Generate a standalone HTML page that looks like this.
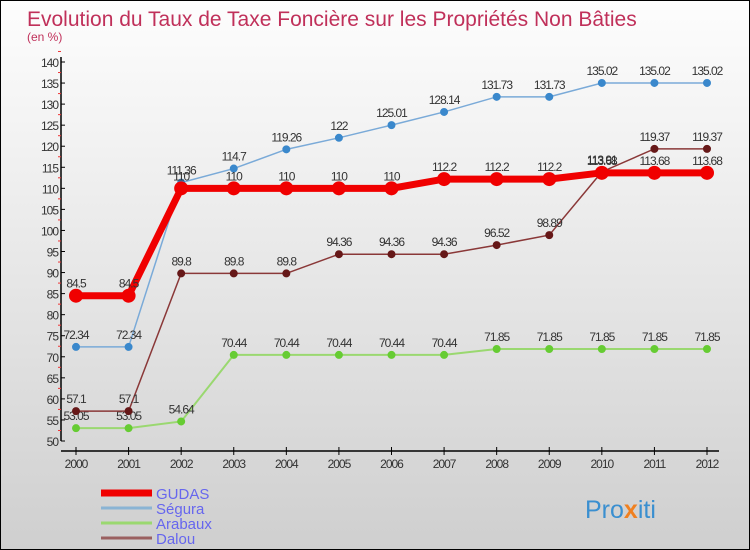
<!DOCTYPE html>
<html><head><meta charset="utf-8"><style>
body{margin:0}
#c{width:750px;height:550px;position:relative;overflow:hidden;background:linear-gradient(#fdfdfd,#f0f0f0 30%,#cfcfcf);border:1px solid #000;box-sizing:border-box;font-family:"Liberation Sans",sans-serif}
</style></head><body>
<div id="c">
<svg id="s" width="750" height="550" style="position:absolute;left:0;top:0">
<text x="26" y="25" font-size="21" fill="#c0305a">Evolution du Taux de Taxe Foncière sur les Propriétés Non Bâties</text>
<text x="26" y="40" font-size="12" fill="#c0305a">(en %)</text>
<text x="584" y="517" font-size="25" fill="#3a8fd0">Pro<tspan fill="#f08020" font-weight="bold">x</tspan>iti</text>
</svg>
</div>
<script>
const years=[2000,2001,2002,2003,2004,2005,2006,2007,2008,2009,2010,2011,2012];
const yTicks=[50,55,60,65,70,75,80,85,90,95,100,105,110,115,120,125,130,135,140];
const gudas=[84.5,84.5,110,110,110,110,110,112.2,112.2,112.2,113.68,113.68,113.68];
const segura=[72.34,72.34,111.36,114.7,119.26,122,125.01,128.14,131.73,131.73,135.02,135.02,135.02];
const arabaux=[53.05,53.05,54.64,70.44,70.44,70.44,70.44,70.44,71.85,71.85,71.85,71.85,71.85];
const dalou=[57.1,57.1,89.8,89.8,89.8,94.36,94.36,94.36,96.52,98.89,113.91,119.37,119.37];
const seriesNames=["GUDAS","Ségura","Arabaux","Dalou"];
const s=document.getElementById('s');const NS='http://www.w3.org/2000/svg';
const X=i=>75+i*(706-75)/12, Y=v=>440-(v-50)*(440-61)/90;
function el(t,a,n){const e=document.createElementNS(NS,t);for(const k in a)e.setAttribute(k,a[k]);


s.appendChild(e);return e;}
el('line',{x1:60,y1:56,x2:60,y2:440,stroke:'#000','stroke-width':1.5},'y-axis');
el('line',{x1:60,y1:450,x2:718,y2:450,stroke:'#000','stroke-width':1.5},'x-axis');
yTicks.forEach(v=>{const y=Y(v);el('line',{x1:60,y1:y,x2:64,y2:y,stroke:'#000'},'y-tick');
const t=el('text',{x:57,y:y+5,'font-size':12,fill:'#333','text-anchor':'end','letter-spacing':-1},'y-tick-label');t.textContent=v;
el('line',{x1:57,y1:Y(v+2.5),x2:60,y2:Y(v+2.5),stroke:'#e33'},'y-minor-tick');});
years.forEach((yr,i)=>{el('line',{x1:X(i),y1:446,x2:X(i),y2:454,stroke:'#000'},'x-tick');
const t=el('text',{x:X(i),y:467,'font-size':12,fill:'#333','text-anchor':'middle','letter-spacing':-1},'x-tick-label');t.textContent=yr;});
function series(d,col,w,r,dot,n){
el('polyline',{points:d.map((v,i)=>X(i)+','+Y(v)).join(' '),fill:'none',stroke:col,'stroke-width':w},n+'-line');
d.forEach((v,i)=>{el('circle',{cx:X(i),cy:Y(v),r:r,fill:dot,stroke:dot},n+'-point');
const t=el('text',{x:X(i),y:Y(v)-8,'font-size':12,fill:'#333','text-anchor':'middle','letter-spacing':-1},n+'-value');t.textContent=v;});}
series(segura,'#7aaad8',1.5,3.5,'#3a88cc','segura');
series(arabaux,'#9ad870',2,3.5,'#66cc33','arabaux');
series(dalou,'#8a3838',1.5,3.5,'#661818','dalou');
series(gudas,'#f00000',7,6.5,'#f00000','gudas');
const lc=['#f00000','#8ab4d4','#9ad870','#9a6060'],lw=[7,3,3,3];
seriesNames.forEach((n,i)=>{const y=492+i*15;
el('line',{x1:100,y1:y,x2:151,y2:y,stroke:lc[i],'stroke-width':lw[i]},'legend-swatch');
const t=el('text',{x:155,y:y+6,'font-size':15,fill:'#6666ee'},'legend-entry');t.textContent=n;});
</script>
</body></html>
